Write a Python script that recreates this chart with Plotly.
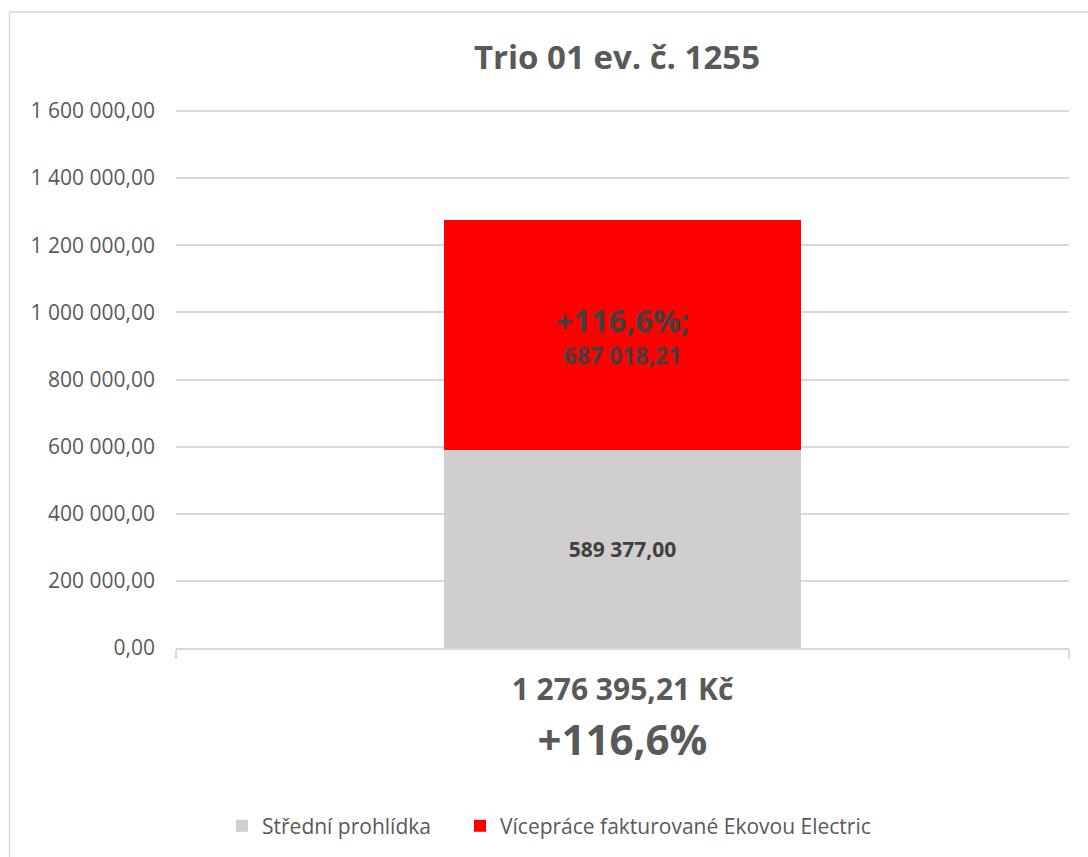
import plotly.graph_objects as go

title = "Trio 01 ev. č. 1255"
series_names = ["Střední prohlídka", "Vícepráce fakturované Ekovou Electric"]
gray_values = [589377.00]
red_values = [687018.21]
colors = ["#D0CECE", "#FF0000"]
y_ticks = [0, 200000, 400000, 600000, 800000, 1000000, 1200000, 1400000, 1600000]


def fmt_cz(v, dec=2):
    s = f"{v:,.{dec}f}"
    return s.replace(",", " ").replace(".", ",")


total = gray_values[0] + red_values[0]
pct = red_values[0] / gray_values[0] * 100
pct_txt = f"+{pct:.1f}".replace(".", ",") + "%"
categories = [fmt_cz(total) + " Kč"]

W, H = 1088, 857
L, R, T, B = 176, 19, 108, 209
pw, ph = W - L - R, H - T - B
y_top = 1600000 * ph / 537.0  # keeps 1 600 000 at the same pixel row, so its gridline is drawn

fig = go.Figure()
fig.add_trace(go.Bar(
    x=categories, y=gray_values, name=series_names[0], legend="legend", showlegend=True,
    marker=dict(color=colors[0], line=dict(width=0)),
    text=[f"<b>{fmt_cz(v)}</b>" for v in gray_values],
    textposition="inside", insidetextanchor="middle", textangle=0,
    textfont=dict(family="Open Sans", size=21, color="#404040"),
    width=0.4,
))
fig.add_trace(go.Bar(
    x=categories, y=red_values, name=series_names[1], legend="legend2", showlegend=True,
    marker=dict(color=colors[1], line=dict(width=0)),
    text=[f"<b><span style='font-size:31px'>{pct_txt};</span><br><span style='font-size:23px'>{fmt_cz(v)}</span></b>"
          for v in red_values],
    textposition="inside", insidetextanchor="middle", textangle=0,
    textfont=dict(family="Open Sans", size=25, color="#404040"),
    width=0.4,
))

tick_label = f"<span style='font-size:30px'><b>{categories[0]}</b></span><br><b>{pct_txt}</b>"

legend_common = dict(
    orientation="h", xanchor="left", y=(H - B - 826) / ph, yanchor="middle",
    font=dict(family="Open Sans", size=21, color="#595959"),
    itemwidth=30, bgcolor="rgba(0,0,0,0)", visible=True,
)

fig.update_layout(
    width=W, height=H,
    showlegend=True,
    margin=dict(l=L, r=R, t=T, b=B, autoexpand=False),
    barmode="stack",
    separators=", ",
    paper_bgcolor="white", plot_bgcolor="white",
    font=dict(family="Open Sans", color="#595959"),
    title=dict(text=f"<b>{title}</b>", x=(617 / W), xanchor="center", y=1 - 57 / H, yanchor="middle",
               font=dict(family="Open Sans", size=33, color="#595959")),
    xaxis=dict(
        type="category", range=[-0.5, 0.5],
        tickmode="array", tickvals=categories, ticktext=[tick_label],
        tickson="boundaries", ticks="outside", ticklen=9, tickcolor="#d9d9d9", tickwidth=1.5,
        showline=True, linecolor="#d9d9d9", linewidth=1.5,
        showgrid=False,
        tickfont=dict(family="Open Sans", size=42, color="#595959"),
    ),
    yaxis=dict(
        range=[0, y_top], tickvals=y_ticks, tickformat=",.2f",
        showgrid=True, gridcolor="#d9d9d9", gridwidth=1.5,
        zeroline=False, showline=False, ticks="",
        ticklabelstandoff=20,
        tickfont=dict(family="Open Sans", size=21, color="#595959"),
    ),
    legend=dict(x=(222 - L) / pw, **legend_common),
    legend2=dict(x=(460 - L) / pw, **legend_common),
    shapes=[dict(
        type="path", xref="paper", yref="paper",
        path=f"M {(9.5 - L) / pw} {(H - B - H - 5) / ph} L {(9.5 - L) / pw} {(H - B - 12) / ph} L {(W + 5 - L) / pw} {(H - B - 12) / ph}",
        line=dict(color="#d9d9d9", width=1.5),
    )],
)

fig.write_html("out.html", config={"displayModeBar": False},
               post_script="document.body.style.margin='0';document.body.style.overflow='hidden';")
